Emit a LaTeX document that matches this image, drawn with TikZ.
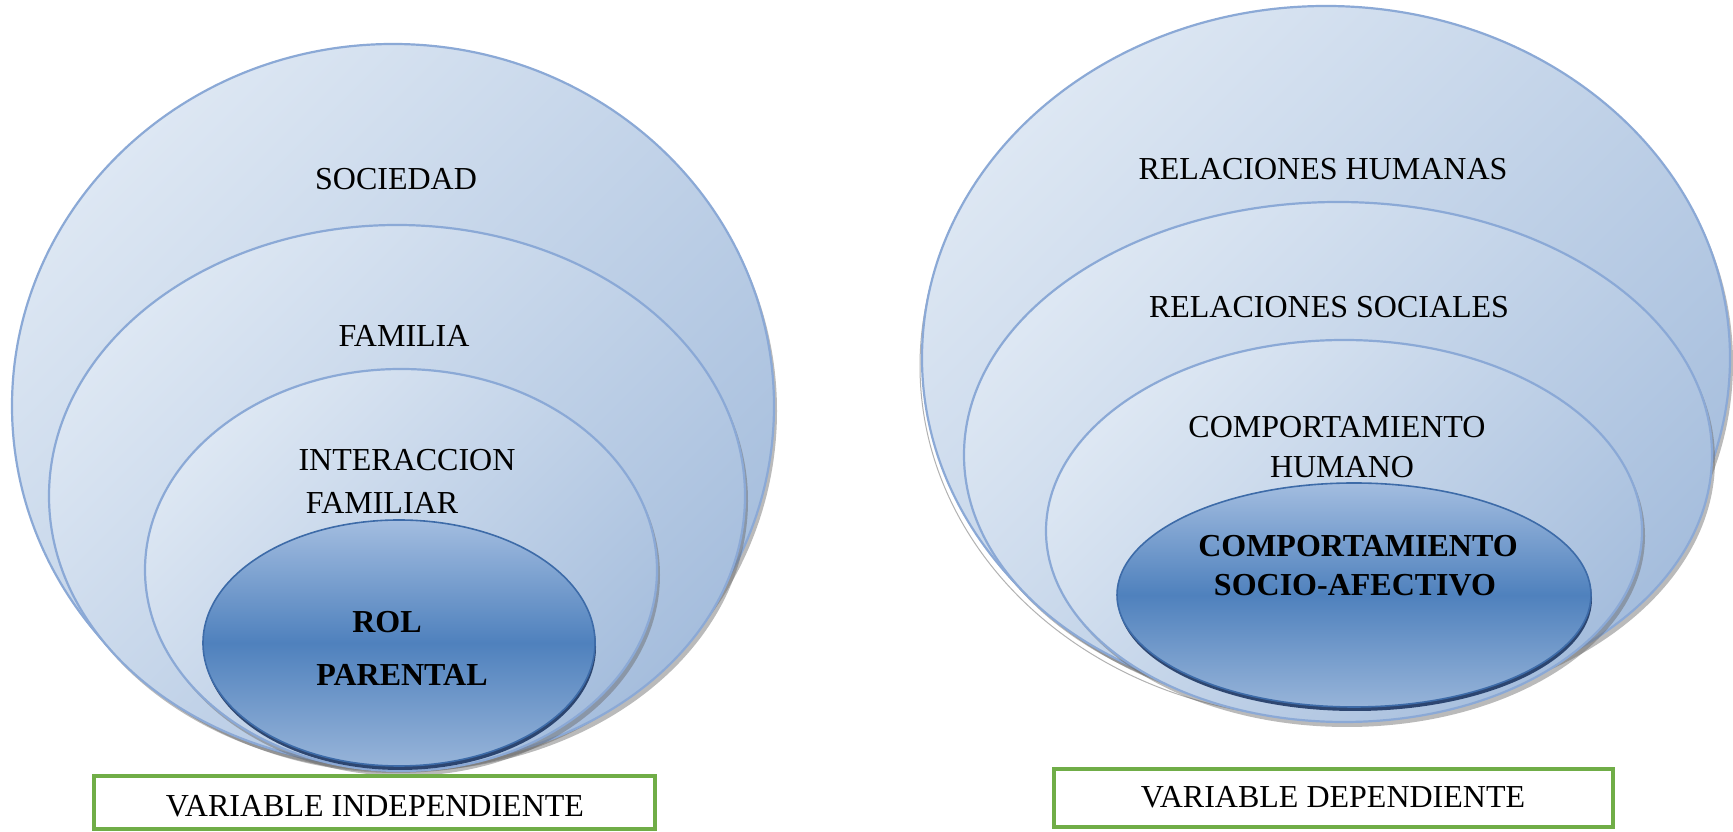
\documentclass[tikz,border=0pt]{standalone}
\usepackage{fontspec}
\setmainfont{Liberation Serif}
\usetikzlibrary{shapes.geometric,shadows}
\definecolor{lightA}{HTML}{DDE7F3}
\definecolor{lightB}{HTML}{A6BEDD}
\definecolor{rim}{HTML}{8BA9D6}
\definecolor{inTop}{HTML}{A3BDE0}
\definecolor{inMid}{HTML}{4F81BD}
\definecolor{inBot}{HTML}{97B4D9}
\definecolor{inRim}{HTML}{3D6BA8}
\definecolor{inShadow}{HTML}{1F3864}
\definecolor{boxgreen}{HTML}{70AD47}
\tikzset{
  ring/.style={ellipse, draw=rim, line width=2.2pt, top color=lightA, bottom color=lightB, shading angle=45, inner sep=0pt,
    drop shadow={shadow xshift=3pt, shadow yshift=-5pt, fill=black!60, opacity=0.45}},
  core/.style={ellipse, draw=inRim, line width=1.6pt, top color=inTop, bottom color=inBot, middle color=inMid, inner sep=0pt,
    drop shadow={shadow xshift=1pt, shadow yshift=-4pt, fill=inShadow, opacity=0.9}},
  halo/.style={ellipse, draw=black!30, line width=1pt, fill=white, inner sep=0pt},
  lbl/.style={inner sep=0pt, font=\fontsize{32}{38}\selectfont, align=center},
  blbl/.style={inner sep=0pt, font=\fontsize{32}{38}\selectfont\bfseries, align=center},
  varbox/.style={draw=boxgreen, line width=3.2pt, fill=white, inner sep=0pt},
}
\begin{document}
\begin{tikzpicture}[x=1pt, y=1pt]
\fill[white] (0,0) rectangle (1733,832);
\useasboundingbox (0,0) rectangle (1733,832);
% left group
\node[ring, minimum width=762pt, minimum height=724pt] (L1) at (393,426) {};
\node[ring, minimum width=696pt, minimum height=542pt] (L2) at (397,336) {};
\node[ring, minimum width=512pt, minimum height=402pt] (L3) at (401,262) {};
\node[core, minimum width=392pt, minimum height=246pt] (L4) at (399,189) {};
\node[lbl] (t1) at (396,653) {SOCIEDAD};
\node[lbl] (t2) at (404,496) {FAMILIA};
\node[lbl] (t3) at (407,372) {INTERACCION};
\node[lbl] (t4) at (382,329) {FAMILIAR};
\node[blbl] (t5) at (387,210) {ROL};
\node[blbl] (t6) at (402,157) {PARENTAL};
\node[varbox, minimum width=561pt, minimum height=53pt] (vb1) at (374.5,29.5) {};
\node[lbl] (vt1) at (375,26) {VARIABLE INDEPENDIENTE};
% right group
\node[halo, minimum width=808pt, minimum height=704pt] (R1h) at (1324,466) {};
\node[ring, minimum width=808pt, minimum height=704pt] (R1) at (1326,474) {};
\node[ring, minimum width=748pt, minimum height=506pt] (R2) at (1338,377) {};
\node[ring, minimum width=596pt, minimum height=382pt] (R3) at (1344,301) {};
\node[core, minimum width=474pt, minimum height=224pt] (R4) at (1354,237) {};
\node[lbl] (s1) at (1323,663) {RELACIONES HUMANAS};
\node[lbl] (s2) at (1329,525) {RELACIONES SOCIALES};
\node[lbl] (s3) at (1337,405) {COMPORTAMIENTO};
\node[lbl] (s4) at (1342,365) {HUMANO};
\node[blbl] (s5) at (1358,286) {COMPORTAMIENTO};
\node[blbl] (s6) at (1355,247) {SOCIO-AFECTIVO};
\node[varbox, minimum width=559pt, minimum height=58pt] (vb2) at (1333.5,34) {};
\node[lbl] (vt2) at (1333,35) {VARIABLE DEPENDIENTE};
\end{tikzpicture}
\end{document}
